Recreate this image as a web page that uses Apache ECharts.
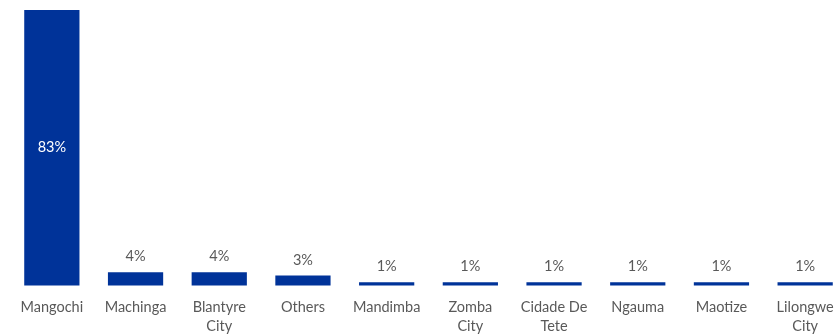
<!DOCTYPE html>
<html><head><meta charset="utf-8">
<script src="https://cdn.jsdelivr.net/npm/echarts@6/dist/echarts.min.js"></script>
<style>html,body{margin:0;padding:0;background:#fff}#c{width:838px;height:334px}</style>
</head><body><div id="c"></div>
<script>
var categories = ['Mangochi','Machinga','Blantyre\nCity','Others','Mandimba','Zomba\nCity','Cidade De\nTete','Ngauma','Maotize','Lilongwe\nCity'];
var values = [83,4,4,3,1,1,1,1,1,1];

var chart = echarts.init(document.getElementById('c'));
chart.setOption({
  animation:false,
  grid:{left:10, width:837, top:10, bottom:48.5, containLabel:false, outerBoundsMode:'none'},
  xAxis:{type:'category', data:categories,
    axisLine:{show:false}, axisTick:{show:false},
    axisLabel:{color:'#595959', fontSize:14.5, fontFamily:'Lato', margin:12, lineHeight:19, interval:0, hideOverlap:false}},
  yAxis:{type:'value', min:0, max:83, show:false, splitLine:{show:false}},
  series:[{type:'bar', barWidth:'66%',
    data:values.map(function(v,i){
      return {value:v, label: i===0 ? {position:'inside', color:'#fff'} : {position:'top', color:'#595959'}};
    }),
    itemStyle:{color:'#003399'},
    label:{show:true, fontSize:14.5, fontFamily:'Lato', distance:8, formatter:function(p){return p.value+'%';}}
  }]
});
</script></body></html>
